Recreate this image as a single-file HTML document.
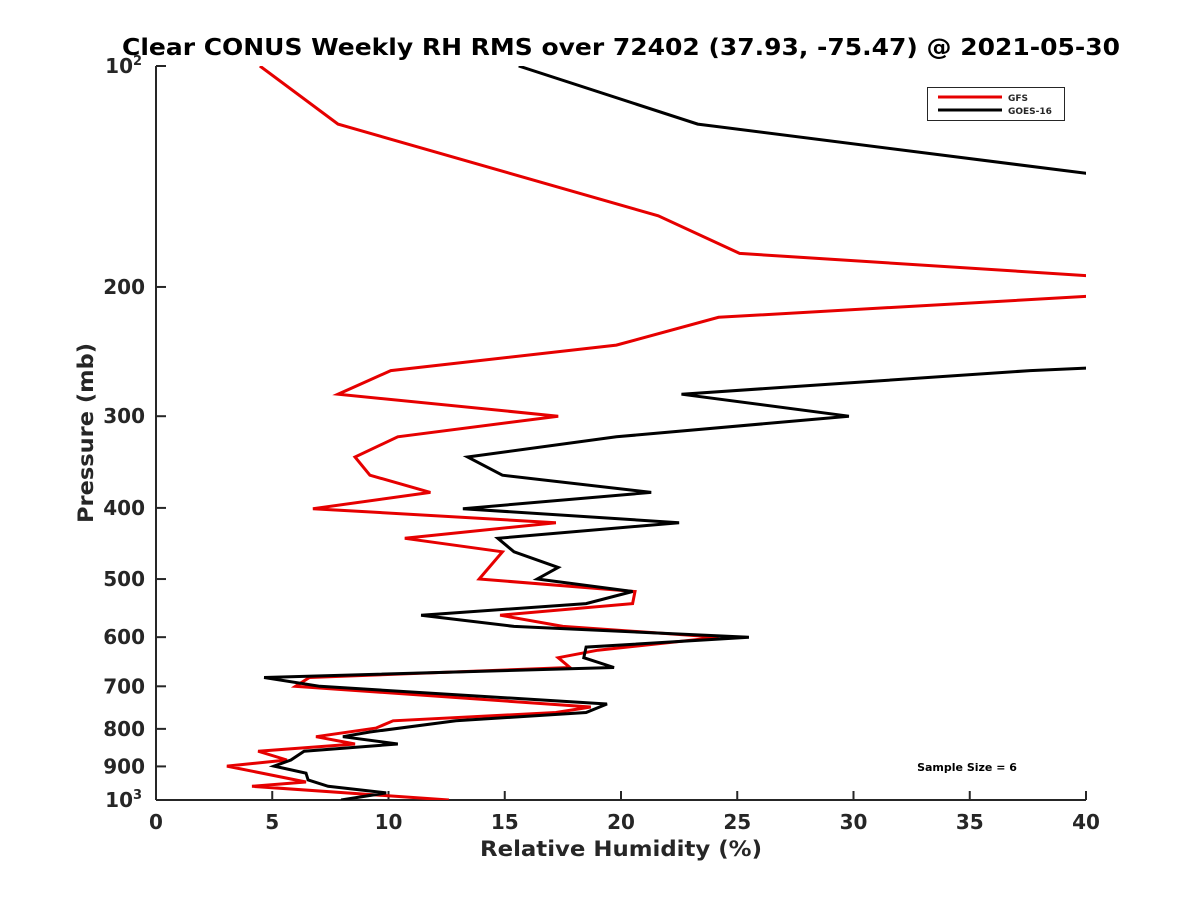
<!DOCTYPE html>
<html><head><meta charset="utf-8"><style>
body{margin:0;background:#fff;}
svg text{font-family:"DejaVu Sans","Liberation Sans",sans-serif;font-weight:bold;fill:#262626;}
</style></head><body>
<svg id="chart" width="1200" height="900" viewBox="0 0 1200 900" xmlns="http://www.w3.org/2000/svg">
<defs><clipPath id="plotclip"><rect x="156" y="66" width="930" height="734"/></clipPath></defs>
<rect width="1200" height="900" fill="#fff"/>
<text x="621" y="55" text-anchor="middle" font-size="23" textLength="998" lengthAdjust="spacingAndGlyphs" style="fill:#000">Clear CONUS Weekly RH RMS over 72402 (37.93, -75.47) @ 2021-05-30</text>
<g id="axes"></g>
<g id="series" clip-path="url(#plotclip)"></g>
<g>
<rect x="927.5" y="87.5" width="137" height="33" fill="#fff" stroke="#262626" stroke-width="1"/>
<line x1="938" y1="97" x2="1002" y2="97" stroke="#e60000" stroke-width="3"/>
<text x="1008" y="101" font-size="9">GFS</text>
<line x1="938" y1="110" x2="1002" y2="110" stroke="#000" stroke-width="3"/>
<text x="1008" y="114" font-size="9">GOES-16</text>
</g>
<text x="967" y="771" text-anchor="middle" font-size="11" style="fill:#000">Sample Size = 6</text>
<text x="621" y="856" text-anchor="middle" font-size="21" textLength="282" lengthAdjust="spacingAndGlyphs">Relative Humidity (%)</text>
<text transform="translate(93,433) rotate(-90)" text-anchor="middle" font-size="21" textLength="180" lengthAdjust="spacingAndGlyphs">Pressure (mb)</text>
</svg>
<script>
const xTicks = [0,5,10,15,20,25,30,35,40];
const yTicks = [100,200,300,400,500,600,700,800,900,1000];
const gfsPressure = [100,120,160,180,193,199.5,206,220,240,260,280,300,320,341,361,381,401,419,440,459,500,520,540,560,580,600,625,640,660,681,700,747,760,780,798,820,839,858,882,899,945,958,1000];
const gfsRH = [4.47,7.83,21.6,25.1,40,47.9,40,24.2,19.8,10.1,7.83,17.3,10.4,8.56,9.2,11.8,6.75,17.2,10.7,14.9,13.9,20.6,20.5,14.8,17.5,24.2,19.0,17.3,17.8,6.6,6.0,18.7,17.2,10.2,9.46,6.88,8.56,4.39,5.63,3.05,6.45,4.13,12.6];
const goesPressure = [100,120,140,200,240,258,260,280,300,320,341,361,381,401,419,440,459,482,500,520,540,560,580,600,619,640,660,681,700,740,760,780,808,820,839,858,882,899,919,939,958,978,1000];
const goesRH = [15.6,23.3,40,60,55,40,37.6,22.6,29.8,19.8,13.4,14.9,21.3,13.2,22.5,14.7,15.4,17.3,16.4,20.5,18.5,11.4,15.4,25.5,18.5,18.4,19.7,4.65,7.05,19.4,18.5,12.9,9.2,8.04,10.4,6.37,5.8,5.08,6.45,6.54,7.4,9.9,7.96];

const X0=156,X1=1086,Y0=66,Y1=800;
const xScale = v => X0 + (v-0)/(40-0)*(X1-X0);
const yScale = p => Y0 + (Math.log10(p)-2)/(1)*(Y1-Y0);
const NS="http://www.w3.org/2000/svg";
const axes=document.getElementById('axes');
const series=document.getElementById('series');
function mk(tag,attrs,parent){const e=document.createElementNS(NS,tag);for(const k in attrs)e.setAttribute(k,attrs[k]);parent.appendChild(e);return e;}

const yAxis=mk('line',{x1:X0,y1:Y0,x2:X0,y2:Y1,stroke:'#262626','stroke-width':2},axes);


const xAxis=mk('line',{x1:X0,y1:Y1,x2:X1,y2:Y1,stroke:'#262626','stroke-width':2},axes);



xTicks.forEach(v=>{
  const x=xScale(v);
  const t=mk('line',{x1:x,y1:Y1,x2:x,y2:Y1-9,stroke:'#262626','stroke-width':2},axes);
  
  
  const l=mk('text',{x:x,y:Y1+29,'text-anchor':'middle','font-size':20},axes);
  l.textContent=v;
  
  
});
yTicks.forEach(p=>{
  const y=yScale(p);
  const t=mk('line',{x1:X0,y1:y,x2:X0+10,y2:y,stroke:'#262626','stroke-width':2},axes);
  
  
  const l=mk('text',{x:X0-11,y:y+7,'text-anchor':'end','font-size':20},axes);
  
  
  if(p===100||p===1000){
    l.setAttribute('x',X0-23);
    l.textContent='10';
    const s=mk('text',{x:X0-23,y:y-1,'font-size':13},axes);
    s.textContent=p===100?'2':'3';
    
    
  } else l.textContent=p;
});

function drawLine(pr,rh,color,name){
  const pts=pr.map((p,i)=>xScale(rh[i]).toFixed(1)+','+yScale(p).toFixed(1)).join(' ');
  const pl=mk('polyline',{points:pts,fill:'none',stroke:color,'stroke-width':3,'stroke-linejoin':'miter'},series);
  
  
}
drawLine(gfsPressure,gfsRH,'#e60000','gfs-line');
drawLine(goesPressure,goesRH,'#000000','goes16-line');
</script>
</body></html>
